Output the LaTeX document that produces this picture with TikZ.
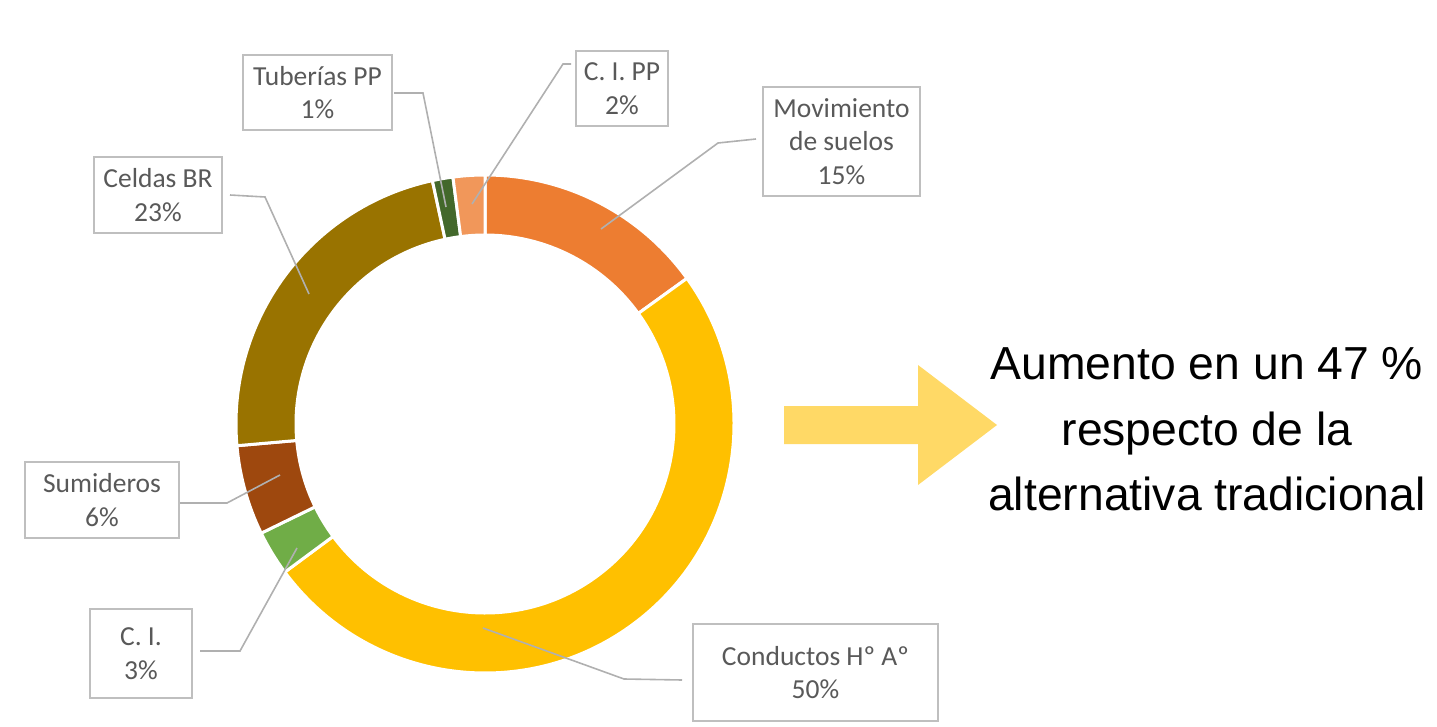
\documentclass[tikz,border=0pt]{standalone}
\usepackage{fontspec}
\setmainfont{Carlito}
\newfontfamily\arrowfont{Liberation Sans}
\usetikzlibrary{calc}
\definecolor{cMov}{HTML}{ED7D31}
\definecolor{cCond}{HTML}{FFC000}
\definecolor{cCI}{HTML}{70AD47}
\definecolor{cSum}{HTML}{9E480E}
\definecolor{cCel}{HTML}{997300}
\definecolor{cTub}{HTML}{43682B}
\definecolor{cCIPP}{HTML}{F1975A}
\definecolor{cArrow}{HTML}{FFD966}
\definecolor{cBox}{HTML}{BFBFBF}
\definecolor{cLead}{HTML}{B0B0B0}
\definecolor{cTxt}{HTML}{595959}
\tikzset{
  lbl/.style={draw=cBox, line width=1.4pt, fill=white, inner sep=0pt, align=center,
    text=cTxt, font=\fontsize{27.5}{33.5}\selectfont},
  leader/.style={draw=cLead, line width=1.6pt},
  slice/.style={draw=white, line width=3pt, line join=miter},
  bigtxt/.style={anchor=base, inner sep=0pt, font=\arrowfont\fontsize{46.3}{66}\selectfont}
}
\newcommand{\donutslice}[3]{%
  \fill[#3] (#1:249) arc[start angle=#1, end angle=#2, radius=249]
    -- (#2:189) arc[start angle=#2, end angle=#1, radius=189] -- cycle;
  \draw[slice] (#1:249) arc[start angle=#1, end angle=#2, radius=249]
    -- (#2:189) arc[start angle=#2, end angle=#1, radius=189] -- cycle;}
\begin{document}
\begin{tikzpicture}[x=1pt, y=1pt, yscale=-1]
\useasboundingbox (0,0) rectangle (1437,727);
% donut
\begin{scope}[shift={(485,424)}]
  \donutslice{-90}{-35.8}{cMov}
  \donutslice{-35.8}{143.5}{cCond}
  \donutslice{143.5}{154}{cCI}
  \donutslice{154}{175}{cSum}
  \donutslice{175}{257.8}{cCel}
  \donutslice{257.8}{262.6}{cTub}
  \donutslice{262.6}{270}{cCIPP}
\end{scope}
% labels
\node[lbl, minimum width=149pt, minimum height=75pt] (tub) at (317.5,92.5) {Tuberías PP\\1\%};
\node[lbl, minimum width=92pt, minimum height=75pt] (cipp) at (622,88.5) {C. I. PP\\2\%};
\node[lbl, minimum width=157pt, minimum height=109pt] (mov) at (841.5,141.5) {Movimiento\\de suelos\\15\%};
\node[lbl, minimum width=128pt, minimum height=76pt] (cel) at (158,195) {Celdas BR\\23\%};
\node[lbl, minimum width=154pt, minimum height=76pt] (sum) at (102,500) {Sumideros\\6\%};
\node[lbl, minimum width=102pt, minimum height=89pt] (ci) at (141,653.5) {C. I.\\3\%};
\node[lbl, minimum width=245pt, minimum height=97pt] (cond) at (815.5,672.5) {Conductos Hº Aº\\50\%};
% leader points
\coordinate (tubS) at (394,93);   \coordinate (tubB) at (423,93);   \coordinate (tubE) at (446,207);
\coordinate (cippS) at (571,64);  \coordinate (cippB) at (563,64);  \coordinate (cippE) at (472,204);
\coordinate (movS) at (756,139);  \coordinate (movB) at (718,143);  \coordinate (movE) at (601,229);
\coordinate (celS) at (230,195);  \coordinate (celB) at (265,197);  \coordinate (celE) at (309,294);
\coordinate (sumS) at (180,503);  \coordinate (sumB) at (227,503);  \coordinate (sumE) at (280,475);
\coordinate (ciS) at (200,651);   \coordinate (ciB) at (240,651);   \coordinate (ciE) at (297,548);
\coordinate (condS) at (682,680); \coordinate (condB) at (624,679); \coordinate (condE) at (483,628);
\draw[leader] (tubS) -- (tubB) -- (tubE);
\draw[leader] (cippS) -- (cippB) -- (cippE);
\draw[leader] (movS) -- (movB) -- (movE);
\draw[leader] (celS) -- (celB) -- (celE);
\draw[leader] (sumS) -- (sumB) -- (sumE);
\draw[leader] (ciS) -- (ciB) -- (ciE);
\draw[leader] (condS) -- (condB) -- (condE);
% block arrow
\fill[cArrow] (784,406) -- (918,406) -- (918,365) -- (997,425) -- (918,485) -- (918,444) -- (784,444) -- cycle;
% text
\node[bigtxt] (t1) at (1207,379) {Aumento en un 47 \%};
\node[bigtxt] (t2) at (1207,445) {respecto de la};
\node[bigtxt] (t3) at (1207,510) {alternativa tradicional};
\end{tikzpicture}
\end{document}
